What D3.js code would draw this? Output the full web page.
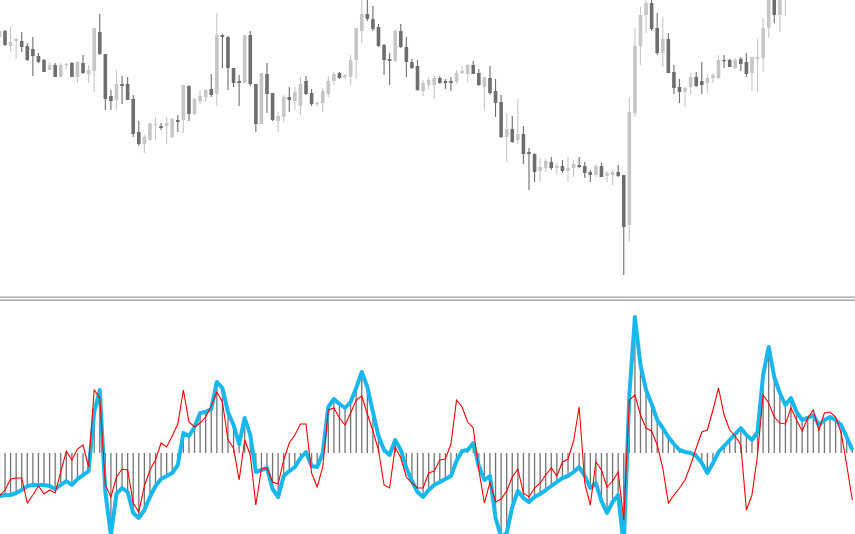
<!DOCTYPE html>
<html><head><meta charset="utf-8">
<script src="https://cdn.jsdelivr.net/npm/d3@7/dist/d3.min.js"></script>
<style>html,body{margin:0;padding:0;background:#fff;overflow:hidden}</style>
</head><body><svg id="chart" width="855" height="534"></svg>
<script>
// ---- Price candles (arbitrary price points) ----
const opens = [263,269,254,259,259,254,251,244,240,230,235,223,235,237,223,237,226,229,268,246,204,200,216,216,201,168,156,160,175,174,174,163,180,180,214,186,199,203,211,206,
265,263,232,219,217,265,216,176,226,207,179,183,203,199,194,219,207,196,197,206,219,227,223,223,240,269,286,281,273,255,241,239,269,253,238,234,209,215,215,222,
219,219,218,227,226,235,227,213,222,209,198,163,171,160,166,148,146,129,132,138,132,134,129,132,135,134,128,125,134,124,125,128,125,75,187,254,285,297,272,247,
261,228,213,208,213,223,219,217,222,222,240,240,232,241,238,227,241,242,272,320,285,312,330,342,336,355,348,362,370,360,368,372,364,350];
const highs = [282,270,273,262,268,257,263,247,241,238,237,237,237,238,239,245,235,272,286,246,210,230,224,223,205,179,165,177,183,177,183,182,185,215,215,202,210,211,226,287,
266,264,232,225,265,269,216,227,237,207,188,205,213,213,223,224,211,198,212,224,228,228,226,245,272,300,302,294,276,256,247,271,276,263,241,240,220,223,224,224,
221,223,230,234,236,239,231,223,234,221,205,187,184,201,174,152,147,142,141,143,137,140,143,140,143,138,130,136,137,129,131,135,125,202,272,293,305,303,287,283,
267,235,221,213,227,228,238,226,227,245,245,241,242,243,247,243,261,282,318,325,330,335,350,352,362,365,370,378,375,374,380,378,368,356];
const lows = [255,254,248,241,248,239,224,237,228,230,223,223,230,223,217,226,217,208,245,190,190,190,196,200,163,154,147,159,160,170,156,162,168,167,179,185,196,198,203,194,
232,210,213,194,217,214,168,176,187,179,168,178,188,190,185,205,194,194,188,203,215,221,221,215,221,257,279,269,253,225,215,238,252,223,231,209,204,211,201,216,
211,209,216,226,218,226,214,190,205,183,162,138,157,156,136,110,118,118,128,130,125,127,118,123,132,122,118,123,123,118,115,123,25,58,183,235,267,269,245,233,
227,206,197,193,206,213,206,207,217,221,232,233,231,229,223,209,208,228,262,277,268,284,318,325,330,340,345,352,350,352,360,355,340,332];
const closes = [269,255,258,261,253,240,244,238,228,235,223,235,236,223,238,227,230,272,246,201,199,216,214,200,166,156,163,177,176,172,177,181,178,215,186,201,204,210,205,265,
263,232,217,217,265,216,176,227,206,180,184,203,200,208,216,206,196,197,209,219,226,222,225,240,272,286,281,271,254,240,239,269,253,238,232,210,217,220,222,217,
217,217,227,229,235,226,215,223,207,197,163,171,158,166,146,146,128,133,139,132,134,129,132,136,133,127,125,134,123,127,128,124,73,188,254,285,297,271,247,261,
227,212,208,212,223,214,215,222,225,240,239,233,240,236,226,243,243,272,310,285,315,330,342,336,355,348,362,370,360,368,372,364,350,345];

// ---- Indicator sub-window ----
const histogram = [-43,-42,-42,-40,-37,-33,-32,-32,-32,-33,-36,-32,-28,-32,-26,-22,-18,41,63,-39,-82,-41,-35,-39,-60,-65,-57,-44,-33,-26,-23,-20,-12,20,17,26,40,41,44,71,
65,41,28,9,35,18,-19,-17,-15,-36,-44,-23,-18,-14,-5,1,-13,-14,0,46,54,49,45,51,65,81,66,41,17,3,-2,13,3,-15,-28,-39,-44,-37,-32,-29,
-26,-23,-8,2,3,10,-13,-27,-23,-65,-84,-80,-54,-38,-45,-49,-44,-41,-37,-33,-29,-25,-23,-19,-14,-23,-35,-30,-48,-60,-49,-42,-92,58,136,88,63,49,33,25,
16,9,3,1,0,-3,-10,-20,-10,1,7,13,19,25,18,13,21,78,106,76,60,48,55,41,33,35,38,28,33,36,33,28,16,3];
const mainLine = [-43,-42,-42,-40,-37,-33,-32,-32,-32,-33,-36,-32,-28,-32,-26,-22,-18,41,63,-39,-82,-41,-35,-39,-60,-65,-57,-44,-33,-26,-23,-20,-12,20,17,26,40,41,44,71,
65,41,28,9,35,18,-19,-17,-15,-36,-44,-23,-18,-14,-5,1,-13,-14,0,46,54,49,45,51,65,81,66,41,17,3,-2,13,3,-15,-28,-39,-44,-37,-32,-29,
-26,-23,-8,2,3,10,-13,-27,-23,-65,-84,-80,-54,-38,-45,-49,-44,-41,-37,-33,-29,-25,-23,-19,-14,-23,-35,-30,-48,-60,-49,-42,-92,58,136,88,63,49,33,25,
16,9,3,1,0,-3,-10,-20,-10,1,7,13,19,25,18,13,21,78,106,76,60,48,55,41,33,35,38,28,33,36,33,28,16,3];
const signalLine = [-43,-37,-26,-25,-25,-50,-42,-33,-41,-37,-40,-19,2,-7,4,8,-14,63,55,-32,-44,-24,-16,-17,-50,-59,-33,-17,-7,10,6,17,29,63,31,26,30,36,47,61,
51,13,5,-27,13,-2,-52,-16,-15,-29,-31,-7,10,18,29,29,-20,-34,-14,43,45,35,28,40,53,57,39,22,3,-32,-35,6,-5,-24,-30,-35,-35,-20,-18,-7,
-6,9,53,46,31,25,-17,-50,-29,-49,-46,-38,-24,-16,-40,-44,-35,-30,-22,-15,-23,-9,-6,12,46,-30,-52,-9,-17,-34,-28,-19,-67,53,58,38,25,22,8,-15,
-50,-42,-35,-27,-12,5,21,23,43,65,38,23,17,8,-57,-42,-2,58,50,36,30,29,45,33,22,35,43,23,40,41,36,20,-12,-47];

const W = 855, H = 534;
const svg = d3.select('#chart');
const idx = d3.range(opens.length);
const x = d3.scaleLinear().domain([0, 153]).range([-0.57, 852.3]);
const yP = d3.scaleLinear().domain([0, 300]).range([300, 0]);
const yI = d3.scaleLinear().domain([-81, 151]).range([534, 302]);

svg.append('rect').attr('width', W).attr('height', H).attr('fill', '#fff');
const defs = svg.append('defs');
defs.append('clipPath').attr('id', 'cpTop').append('rect').attr('x', 0).attr('y', 0).attr('width', W).attr('height', 296);
defs.append('clipPath').attr('id', 'cpBot').append('rect').attr('x', 0).attr('y', 301.5).attr('width', W).attr('height', H - 301.5);

const UP = '#c6c6c6', DN = '#6e6e6e';
const priceG = svg.append('g').attr('clip-path', 'url(#cpTop)');
const cg = priceG.selectAll('g.c').data(idx).join('g');
cg.append('line')
  .attr('x1', i => x(i)).attr('x2', i => x(i))
  .attr('y1', i => yP(highs[i])).attr('y2', i => yP(lows[i]))
  .attr('stroke', i => closes[i] >= opens[i] ? UP : DN).attr('stroke-width', 1.1);
cg.append('rect')
  .attr('x', i => x(i) - 1.8).attr('width', 3.6)
  .attr('y', i => yP(Math.max(opens[i], closes[i])))
  .attr('height', i => Math.max(1.2, Math.abs(yP(opens[i]) - yP(closes[i]))))
  .attr('fill', i => closes[i] >= opens[i] ? UP : DN);

// separator
svg.append('line').attr('x1', 0).attr('x2', W).attr('y1', 297.1).attr('y2', 297.1).attr('stroke', '#a3a3a3').attr('stroke-width', 1.3);
svg.append('line').attr('x1', 0).attr('x2', W).attr('y1', 300.1).attr('y2', 300.1).attr('stroke', '#9a9a9a').attr('stroke-width', 1.3);

const indG = svg.append('g').attr('clip-path', 'url(#cpBot)');
indG.selectAll('line.h').data(idx).join('line')
  .attr('x1', i => x(i)).attr('x2', i => x(i))
  .attr('y1', yI(0)).attr('y2', i => yI(histogram[i]))
  .attr('stroke', '#747474').attr('stroke-width', 1.3);
const lineGen = arr => d3.line().x(i => x(i)).y(i => yI(arr[i]))(idx);
indG.append('path').attr('d', lineGen(mainLine)).attr('fill', 'none').attr('stroke', '#18b8ec').attr('stroke-width', 4).attr('stroke-linejoin', 'round');
indG.append('path').attr('d', lineGen(signalLine)).attr('fill', 'none').attr('stroke', '#ff0000').attr('stroke-width', 1.1);
</script></body></html>
